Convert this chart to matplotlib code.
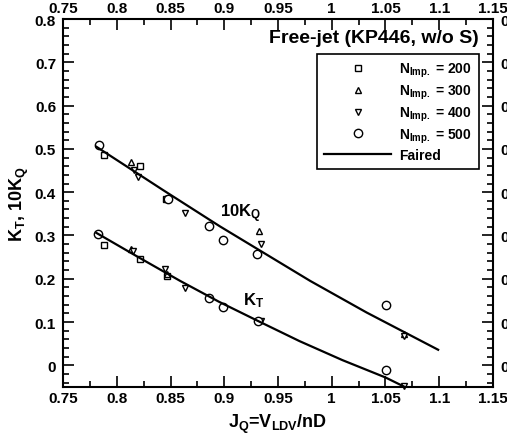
import numpy as np
import matplotlib
matplotlib.use("Agg")
import matplotlib.pyplot as plt
from matplotlib.ticker import MultipleLocator, FuncFormatter

plt.rcParams["font.family"] = ["Liberation Sans", "DejaVu Sans"]
plt.rcParams["font.weight"] = "bold"
plt.rcParams["mathtext.fontset"] = "custom"
plt.rcParams["mathtext.rm"] = "Liberation Sans:bold"
plt.rcParams["mathtext.bf"] = "Liberation Sans:bold"
plt.rcParams["mathtext.it"] = "Liberation Sans:bold"
plt.rcParams["mathtext.default"] = "bf"

# ---- measured points (J, value) ----
# N_imp = 200 (square)
j200_q = [0.788, 0.822, 0.846]
kq200 = [0.486, 0.460, 0.385]
j200_t = [0.788, 0.822, 0.847]
kt200 = [0.278, 0.246, 0.206]
# N_imp = 300 (triangle up)
j300_q = [0.813, 0.846, 0.932, 1.067]
kq300 = [0.469, 0.386, 0.310, 0.072]
j300_t = [0.813, 0.847, 0.932]
kt300 = [0.268, 0.210, 0.104]
# N_imp = 400 (triangle down)
j400_q = [0.816, 0.8195, 0.8635, 0.934, 1.067]
kq400 = [0.452, 0.434, 0.352, 0.281, 0.068]
j400_t = [0.815, 0.845, 0.8635, 0.934, 1.067]
kt400 = [0.265, 0.222, 0.179, 0.102, -0.048]
# N_imp = 500 (circle)
j500_q = [0.7835, 0.848, 0.8858, 0.8986, 0.9302, 1.0503]
kq500 = [0.510, 0.385, 0.321, 0.289, 0.2575, 0.139]
j500_t = [0.7828, 0.8858, 0.8986, 0.931, 1.0503]
kt500 = [0.303, 0.156, 0.1356, 0.103, -0.011]

# faired curves
fair_j_q = [0.781, 0.843, 0.896, 0.93, 0.98, 1.0325, 1.099]
fair_kq = [0.505, 0.405, 0.321, 0.270, 0.195, 0.122, 0.036]
fair_j_t = [0.781, 0.82, 0.859, 0.895, 0.931, 0.97, 1.01, 1.05, 1.068]
fair_kt = [0.306, 0.250, 0.195, 0.147, 0.103, 0.056, 0.012, -0.028, -0.05]

fig = plt.figure(figsize=(5.07, 4.39), dpi=100)
ax = fig.add_axes([0.1243, 0.1162, 0.848, 0.8382])

mk = dict(linestyle="none", markerfacecolor="white", markeredgecolor="black",
          markeredgewidth=1.0, clip_on=False)
ax.plot(j200_q + j200_t, kq200 + kt200, marker="s", markersize=4.5, label=r"N$_{Imp.}$ = 200", **mk)
ax.plot(j300_q + j300_t, kq300 + kt300, marker="^", markersize=5, label=r"N$_{Imp.}$ = 300", **mk)
ax.plot(j400_q + j400_t, kq400 + kt400, marker="v", markersize=5, label=r"N$_{Imp.}$ = 400", **mk)
ax.plot(j500_q + j500_t, kq500 + kt500, marker="o", markersize=6, label=r"N$_{Imp.}$ = 500", **mk)
ax.plot(fair_j_q, fair_kq, color="black", linewidth=1.6, label="Faired")
ax.plot(fair_j_t, fair_kt, color="black", linewidth=1.6)

ax.set_xlim(0.75, 1.15)
ax.set_ylim(-0.05, 0.8)
ax.xaxis.set_major_locator(MultipleLocator(0.05))
ax.xaxis.set_minor_locator(MultipleLocator(0.025))
ax.yaxis.set_major_locator(MultipleLocator(0.1))
ax.yaxis.set_minor_locator(MultipleLocator(0.02))
fmt = FuncFormatter(lambda v, p: f"{round(v, 3):g}")
ax.xaxis.set_major_formatter(fmt)
ax.yaxis.set_major_formatter(fmt)

ax.tick_params(which="both", direction="in", top=True, right=True,
               labeltop=True, labelright=True, labelsize=11, width=1.2)
ax.tick_params(which="major", length=8, pad=3)
ax.tick_params(which="minor", length=4)
ax.tick_params(axis="y", which="major", right=True, pad=5)
for s in ax.spines.values():
    s.set_linewidth(1.5)

ax.set_xlabel(r"J$_Q$=V$_{LDV}$/nD", fontsize=13, fontweight="bold", labelpad=5)
ax.set_ylabel(r"K$_T$, 10K$_Q$", fontsize=13, fontweight="bold", labelpad=3)

ax.text(0.896, 0.345, r"10K$_Q$", fontsize=12, fontweight="bold")
ax.text(0.917, 0.142, r"K$_T$", fontsize=12, fontweight="bold")
ax.text(0.967, 0.95, "Free-jet (KP446, w/o S)", transform=ax.transAxes,
        ha="right", va="center", fontsize=14, fontweight="bold")

leg = ax.legend(loc="upper right", bbox_to_anchor=(0.967, 0.905), borderaxespad=0,
                fancybox=False, framealpha=1, edgecolor="black", fontsize=10,
                handlelength=4.8, labelspacing=0.25, handletextpad=0.6,
                borderpad=0.5)
leg.get_frame().set_linewidth(1.2)

fig.savefig("out.png", dpi=100)
